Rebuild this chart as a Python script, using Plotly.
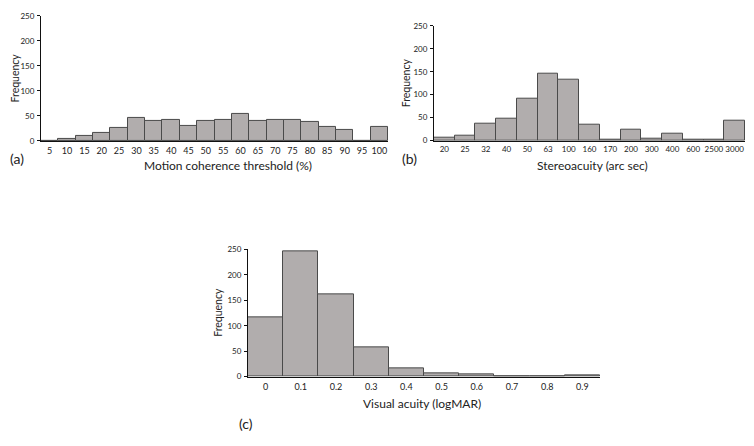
import plotly.graph_objects as go

# Page body has an 8px default margin; figure is sized to fit the window.
OFF = 8
W, H = 754 - 2 * OFF, 446 - 2 * OFF

# (a) Motion coherence threshold
motion_cats = ["5", "10", "15", "20", "25", "30", "35", "40", "45", "50",
               "55", "60", "65", "70", "75", "80", "85", "90", "95", "100"]
motion_vals = [0, 4, 10, 16, 26, 47, 41, 43, 31, 40, 43, 55, 41, 43, 43, 39, 29, 23, 0, 29]

# (b) Stereoacuity
stereo_cats = ["20", "25", "32", "40", "50", "63", "100", "160", "170", "200",
               "300", "400", "600", "2500", "3000"]
stereo_vals = [7, 10, 37, 48, 92, 146, 132, 34, 3, 23, 5, 15, 2, 2, 43]

# (c) Visual acuity
va_cats = ["0", "0.1", "0.2", "0.3", "0.4", "0.5", "0.6", "0.7", "0.8", "0.9"]
va_vals = [116, 247, 161, 58, 17, 6, 4, 1, 1, 2]

y_ticks = [0, 50, 100, 150, 200, 250]

BAR = "#b1adad"
EDGE = "#4a4a4a"
FONT = "Lato"
TXT = "#222222"


def fx(p):
    return (p - OFF) / W


def fy(p):
    return 1 - (p - OFF) / H


fig = go.Figure()

panels = [
    (motion_cats, motion_vals, [fx(41), fx(388)], [fy(139), fy(11)], 9),
    (stereo_cats, stereo_vals, [fx(434), fx(745)], [fy(138.7), fy(21)], 8),
    (va_cats, va_vals, [fx(248), fx(600)], [fy(380.3), fy(250)], 9),
]

for i, (cats, vals, xd, yd, fs) in enumerate(panels):
    sfx = "" if i == 0 else str(i + 1)
    fig.add_trace(go.Bar(
        x=cats, y=vals, xaxis="x" + sfx, yaxis="y" + sfx,
        marker=dict(color=BAR, line=dict(color=EDGE, width=1)),
        width=1.0, showlegend=False, hoverinfo="x+y",
    ))

layout = dict(
    width=W, height=H,
    margin=dict(l=0, r=0, t=0, b=0),
    paper_bgcolor="white", plot_bgcolor="white",
    bargap=0,
    font=dict(family=FONT, color=TXT),
)

for i, (cats, vals, xd, yd, fs) in enumerate(panels):
    sfx = "" if i == 0 else str(i + 1)
    layout["xaxis" + sfx] = dict(
        domain=xd, anchor="y" + sfx, type="category",
        range=[-0.5, len(cats) - 0.5],
        showline=True, linecolor="#111111", linewidth=1.2,
        ticks="", showgrid=False, zeroline=False, tickangle=0,
        tickfont=dict(size=fs, family=FONT, color=TXT),
        ticklabelstandoff=1,
    )
    layout["yaxis" + sfx] = dict(
        domain=yd, anchor="x" + sfx,
        range=[0, 250], tickvals=y_ticks,
        showline=True, linecolor="#111111", linewidth=1,
        ticks="outside", ticklen=3, tickcolor="#111111",
        showgrid=False, zeroline=False,
        tickfont=dict(size=8, family=FONT, color=TXT),
        ticklabelstandoff=1,
    )

fig.update_layout(**layout)

ann = [
    dict(x=228, y=164, text="Motion coherence threshold (%)", size=12),
    dict(x=592, y=164, text="Stereoacuity (arc sec)", size=12),
    dict(x=422, y=408, text="Visual acuity (logMAR)", size=12),
    dict(x=17, y=157, text="(a)", size=14),
    dict(x=409, y=157, text="(b)", size=14),
    dict(x=246, y=428, text="(c)", size=14),
    dict(x=15, y=75, text="Frequency", size=10.5, angle=-90),
    dict(x=406, y=80, text="Frequency", size=10.5, angle=-90),
    dict(x=218, y=315, text="Frequency", size=10.5, angle=-90),
]
for a in ann:
    fig.add_annotation(
        x=fx(a["x"]), y=fy(a["y"]), xref="paper", yref="paper",
        text=a["text"], showarrow=False, textangle=a.get("angle", 0),
        font=dict(size=a["size"], family=FONT, color=TXT),
        xanchor="center", yanchor="middle", borderpad=0,
    )

fig.write_html("out.html")
